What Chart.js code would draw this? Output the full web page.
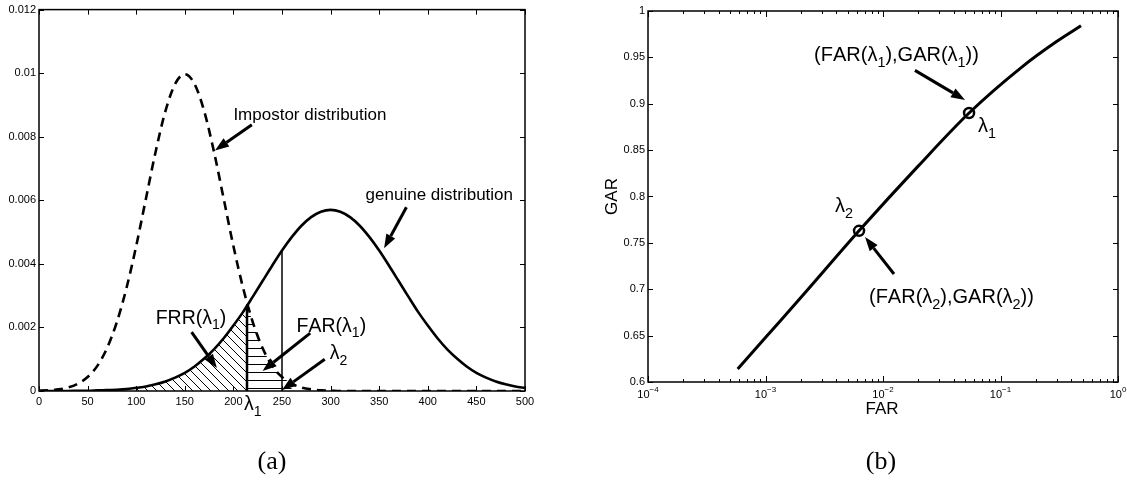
<!DOCTYPE html>
<html>
<head>
<meta charset="utf-8">
<script src="https://cdn.jsdelivr.net/npm/chart.js@4"></script>
<style>
body { margin: 0; background: #fff; }
#wrap { position: relative; width: 1127px; height: 484px; }
canvas { position: absolute; left: 0; top: 0; }
</style>
</head>
<body>
<div id="wrap">
<canvas id="distChart" width="1127" height="484"></canvas>
<canvas id="rocChart" width="1127" height="484"></canvas>
</div>
<script>
// panel (a): score densities, every 10 units
const scores = [0,10,20,30,40,50,60,70,80,90,100,110,120,130,140,150,160,170,180,190,200,210,220,230,240,250,260,270,280,290,300,310,320,330,340,350,360,370,380,390,400,410,420,430,440,450,460,470,480,490,500];
const impostorPdf = [0.00001,0.00002,0.00005,0.00011,0.00023,0.00044,0.00079,0.00135,0.00216,0.00324,0.00456,0.00605,0.00753,0.0088,0.00966,0.00997,0.00966,0.0088,0.00753,0.00605,0.00456,0.00324,0.00216,0.00135,0.00079,0.00044,0.00023,0.00011,0.00005,0.00002,0.00001,0,0,0,0,0,0,0,0,0,0,0,0,0,0,0,0,0,0,0,0];
const genuinePdf = [0,0,0,0,0.00001,0.00001,0.00002,0.00003,0.00004,0.00006,0.0001,0.00014,0.00021,0.0003,0.00042,0.00057,0.00077,0.00102,0.00131,0.00166,0.00206,0.00249,0.00297,0.00346,0.00395,0.00442,0.00484,0.0052,0.00547,0.00564,0.0057,0.00564,0.00547,0.0052,0.00484,0.00442,0.00395,0.00346,0.00297,0.00249,0.00206,0.00166,0.00131,0.00102,0.00077,0.00057,0.00042,0.0003,0.00021,0.00014,0.0001];
const lambda1 = 214;
const lambda2 = 250;
const lambda1Pdf = 0.0027;
const lambda2Pdf = 0.00442;
const frrScores = [100,110,120,130,140,150,160,170,180,190,200,210,214];
const frrPdf = [0.0001,0.00014,0.00021,0.0003,0.00042,0.00057,0.00077,0.00102,0.00131,0.00166,0.00206,0.00249,0.0027];
const farScores = [214,220,230,240,250,260];
const farPdf = [0.0027,0.00216,0.00135,0.00079,0.00044,0.00023];

// panel (b): ROC
const rocFar = [0.00058,0.001,0.002,0.00625,0.02,0.054,0.15,0.3,0.484];
const rocGar = [0.614,0.648,0.691,0.763,0.833,0.890,0.939,0.967,0.984];
const markFar = [0.054,0.00625];
const markGar = [0.890,0.763];

const FONT = '"Liberation Sans", Arial, sans-serif';

const distNotes = [
    { text: 'Impostor distribution', x: 200, y: 0.00867, size: 17 },
    { text: 'genuine distribution', x: 336, y: 0.00615, size: 17 },
    { text: 'FRR(λ_1)', x: 120, y: 0.00229, size: 19.5 },
    { text: 'FAR(λ_1)', x: 265, y: 0.00204, size: 19.5 },
    { text: 'λ_2', x: 299, y: 0.00118, size: 19.5 }
];
const distArrows = [
    { from: [219, 0.00838], to: [181, 0.00757] },
    { from: [378, 0.00578], to: [355, 0.00449] },
    { from: [157, 0.00185], to: [183, 0.00072] },
    { from: [279, 0.00182], to: [230, 0.00063] },
    { from: [294, 0.00100], to: [250, 0.00003] }
];
const rocNotes = [
    { text: '(FAR(λ_1),GAR(λ_1))', x: 0.00259, y: 0.9525, size: 20 },
    { text: 'λ_1', x: 0.0644, y: 0.876, size: 20 },
    { text: 'λ_2', x: 0.0039, y: 0.789, size: 20 },
    { text: '(FAR(λ_2),GAR(λ_2))', x: 0.0076, y: 0.6916, size: 20 }
];
const rocArrows = [
    { from: [0.0187, 0.936], to: [0.0499, 0.904] },
    { from: [0.0124, 0.7164], to: [0.00703, 0.7563] }
];

function toPoints(xs, ys) {
    return xs.map((x, i) => ({ x: x, y: ys[i] }));
}

function makeHatch(kind) {
    const c = document.createElement('canvas');
    const n = kind === 'diag' ? 9 : 8;
    c.width = n; c.height = n;
    const g = c.getContext('2d');
    g.strokeStyle = '#000';
    g.lineWidth = 1;
    g.beginPath();
    if (kind === 'diag') {
        g.moveTo(-1, -1); g.lineTo(n + 1, n + 1);
        g.moveTo(-1, n - 1); g.lineTo(1, n + 1);
        g.moveTo(n - 1, -1); g.lineTo(n + 1, 1);
    } else {
        g.moveTo(0, 4.5); g.lineTo(n, 4.5);
    }
    g.stroke();
    return g.createPattern(c, 'repeat');
}

function drawRich(ctx, str, x, y, size) {
    let cx = x;
    ctx.textAlign = 'left';
    ctx.textBaseline = 'middle';
    for (let i = 0; i < str.length; i++) {
        let ch = str[i], sub = false;
        if (ch === '_') { sub = true; ch = str[++i]; }
        ctx.font = (sub ? size * 0.72 : size) + 'px ' + FONT;
        ctx.fillText(ch, cx, sub ? y + size * 0.38 : y);
        cx += ctx.measureText(ch).width;
    }
}

function drawArrow(ctx, x1, y1, x2, y2) {
    const a = Math.atan2(y2 - y1, x2 - x1);
    const len = 14, half = 5;
    const bx = x2 - len * Math.cos(a), by = y2 - len * Math.sin(a);
    ctx.lineWidth = 3;
    ctx.beginPath(); ctx.moveTo(x1, y1); ctx.lineTo(bx, by); ctx.stroke();
    ctx.beginPath();
    ctx.moveTo(x2, y2);
    ctx.lineTo(bx + half * Math.sin(a), by - half * Math.cos(a));
    ctx.lineTo(bx - half * Math.sin(a), by + half * Math.cos(a));
    ctx.closePath(); ctx.fill();
}

function drawFrame(chart) {
    const ctx = chart.ctx, a = chart.chartArea;
    ctx.save();
    ctx.strokeStyle = '#000';
    ctx.lineWidth = 1.5;
    ctx.strokeRect(a.left, a.top, a.right - a.left, a.bottom - a.top);
    ctx.restore();
}

function drawLinearTicks(chart) {
    const ctx = chart.ctx, a = chart.chartArea;
    const xs = chart.scales.x, ys = chart.scales.y;
    ctx.save();
    ctx.strokeStyle = '#000'; ctx.lineWidth = 1;
    ctx.beginPath();
    xs.ticks.forEach(t => {
        const p = Math.round(xs.getPixelForValue(t.value)) + 0.5;
        ctx.moveTo(p, a.bottom); ctx.lineTo(p, a.bottom - 5);
        ctx.moveTo(p, a.top); ctx.lineTo(p, a.top + 5);
    });
    ys.ticks.forEach(t => {
        const p = Math.round(ys.getPixelForValue(t.value)) + 0.5;
        ctx.moveTo(a.left, p); ctx.lineTo(a.left + 5, p);
        ctx.moveTo(a.right, p); ctx.lineTo(a.right - 5, p);
    });
    ctx.stroke();
    ctx.restore();
}

const distPlugin = {
    id: 'distDecor',
    afterDraw(chart) {
        const ctx = chart.ctx, xs = chart.scales.x, ys = chart.scales.y, a = chart.chartArea;
        drawLinearTicks(chart);
        drawFrame(chart);
        ctx.save();
        ctx.fillStyle = '#000'; ctx.strokeStyle = '#000';
        distNotes.forEach(n => drawRich(ctx, n.text, xs.getPixelForValue(n.x), ys.getPixelForValue(n.y), n.size));
        distArrows.forEach(r => drawArrow(ctx,
            xs.getPixelForValue(r.from[0]), ys.getPixelForValue(r.from[1]),
            xs.getPixelForValue(r.to[0]), ys.getPixelForValue(r.to[1])));
        drawRich(ctx, 'λ_1', xs.getPixelForValue(lambda1) - 3, a.bottom + 14, 19.5);
        ctx.font = '26px "Liberation Serif", "Times New Roman", serif';
        ctx.textAlign = 'center'; ctx.textBaseline = 'middle';
        ctx.fillText('(a)', 272, 462);
        ctx.restore();
    }
};

const rocPlugin = {
    id: 'rocDecor',
    afterDraw(chart) {
        const ctx = chart.ctx, xs = chart.scales.x, ys = chart.scales.y, a = chart.chartArea;
        ctx.save();
        ctx.strokeStyle = '#000'; ctx.fillStyle = '#000'; ctx.lineWidth = 1;
        ctx.beginPath();
        for (let e = -4; e <= 0; e++) {
            for (let m = 1; m <= 9; m++) {
                if (e === 0 && m > 1) break;
                const v = m * Math.pow(10, e);
                const p = Math.round(xs.getPixelForValue(v)) + 0.5;
                const len = m === 1 ? 6 : 3;
                ctx.moveTo(p, a.bottom); ctx.lineTo(p, a.bottom - len);
                ctx.moveTo(p, a.top); ctx.lineTo(p, a.top + len);
            }
        }
        ys.ticks.forEach(t => {
            const p = Math.round(ys.getPixelForValue(t.value)) + 0.5;
            ctx.moveTo(a.left, p); ctx.lineTo(a.left + 5, p);
            ctx.moveTo(a.right, p); ctx.lineTo(a.right - 5, p);
        });
        ctx.stroke();
        // decade labels 10^e
        for (let e = -4; e <= 0; e++) {
            const p = xs.getPixelForValue(Math.pow(10, e));
            const exp = e === 0 ? '0' : '\u2212' + (-e);
            ctx.font = '11px ' + FONT;
            const wb = ctx.measureText('10').width;
            ctx.font = '8px ' + FONT;
            const we = ctx.measureText(exp).width;
            const x0 = p - (wb + we) / 2;
            ctx.textAlign = 'left'; ctx.textBaseline = 'alphabetic';
            ctx.font = '11px ' + FONT;
            ctx.fillText('10', x0, a.bottom + 16);
            ctx.font = '8px ' + FONT;
            ctx.fillText(exp, x0 + wb, a.bottom + 10);
        }
        ctx.restore();
        drawFrame(chart);
        ctx.save();
        ctx.fillStyle = '#000'; ctx.strokeStyle = '#000';
        rocNotes.forEach(n => drawRich(ctx, n.text, xs.getPixelForValue(n.x), ys.getPixelForValue(n.y), n.size));
        rocArrows.forEach(r => drawArrow(ctx,
            xs.getPixelForValue(r.from[0]), ys.getPixelForValue(r.from[1]),
            xs.getPixelForValue(r.to[0]), ys.getPixelForValue(r.to[1])));
        ctx.font = '17px ' + FONT;
        ctx.textAlign = 'center'; ctx.textBaseline = 'middle';
        ctx.fillText('FAR', (a.left + a.right) / 2 - 1, a.bottom + 27);
        ctx.save();
        ctx.translate(a.left - 36, (a.top + a.bottom) / 2);
        ctx.rotate(-Math.PI / 2);
        ctx.fillText('GAR', 0, 0);
        ctx.restore();
        ctx.font = '26px "Liberation Serif", "Times New Roman", serif';
        ctx.fillText('(b)', 881, 462);
        ctx.restore();
    }
};

const tickFont = { family: FONT, size: 11 };

new Chart(document.getElementById('distChart'), {
    type: 'line',
    data: {
        datasets: [
            { data: toPoints(scores, impostorPdf), borderColor: '#000', borderWidth: 2.6, borderDash: [9, 6], pointRadius: 0, cubicInterpolationMode: 'monotone', fill: false },
            { data: toPoints(scores, genuinePdf), borderColor: '#000', borderWidth: 2.6, pointRadius: 0, cubicInterpolationMode: 'monotone', fill: false },
            { data: toPoints(frrScores, frrPdf), borderWidth: 0, borderColor: 'rgba(0,0,0,0)', backgroundColor: makeHatch('diag'), pointRadius: 0, cubicInterpolationMode: 'monotone', fill: 'origin' },
            { data: toPoints(farScores, farPdf), borderWidth: 0, borderColor: 'rgba(0,0,0,0)', backgroundColor: makeHatch('horiz'), pointRadius: 0, cubicInterpolationMode: 'monotone', fill: 'origin' },
            { data: [{ x: lambda1, y: 0 }, { x: lambda1, y: lambda1Pdf }], borderColor: '#000', borderWidth: 2.5, pointRadius: 0, fill: false },
            { data: [{ x: lambda2, y: 0 }, { x: lambda2, y: lambda2Pdf }], borderColor: '#000', borderWidth: 1.5, pointRadius: 0, fill: false }
        ]
    },
    options: {
        responsive: false,
        animation: false,
        layout: { padding: { left: 0, top: 9, right: 602, bottom: 71 } },
        plugins: { legend: { display: false }, tooltip: { enabled: false } },
        scales: {
            x: {
                type: 'linear', min: 0, max: 500,
                grid: { display: false, drawTicks: false },
                border: { display: false },
                ticks: { stepSize: 50, font: tickFont, color: '#000', padding: 4, maxRotation: 0 },
                afterFit: s => { s.height = 22; }
            },
            y: {
                type: 'linear', min: 0, max: 0.012,
                grid: { display: false, drawTicks: false },
                border: { display: false },
                ticks: { stepSize: 0.002, font: tickFont, color: '#000', padding: 3, callback: v => String(+v.toFixed(3)) },
                afterFit: s => { s.width = 39; }
            }
        }
    },
    plugins: [distPlugin]
});

new Chart(document.getElementById('rocChart'), {
    type: 'line',
    data: {
        datasets: [
            { data: toPoints(rocFar, rocGar), borderColor: '#000', borderWidth: 3, pointRadius: 0, cubicInterpolationMode: 'monotone', fill: false },
            { data: toPoints(markFar, markGar), showLine: false, pointRadius: 5, pointBorderWidth: 2.5, pointBorderColor: '#000', pointBackgroundColor: 'rgba(0,0,0,0)' }
        ]
    },
    options: {
        responsive: false,
        animation: false,
        layout: { padding: { left: 608, top: 11, right: 9, bottom: 80 } },
        plugins: { legend: { display: false }, tooltip: { enabled: false } },
        scales: {
            x: {
                type: 'logarithmic', min: 0.0001, max: 1,
                grid: { display: false, drawTicks: false },
                border: { display: false },
                ticks: { display: false },
                afterFit: s => { s.height = 22; }
            },
            y: {
                type: 'linear', min: 0.6, max: 1,
                grid: { display: false, drawTicks: false },
                border: { display: false },
                ticks: { stepSize: 0.05, font: tickFont, color: '#000', padding: 3, callback: v => String(+v.toFixed(2)) },
                afterFit: s => { s.width = 40; }
            }
        }
    },
    plugins: [rocPlugin]
});
</script>
</body>
</html>
